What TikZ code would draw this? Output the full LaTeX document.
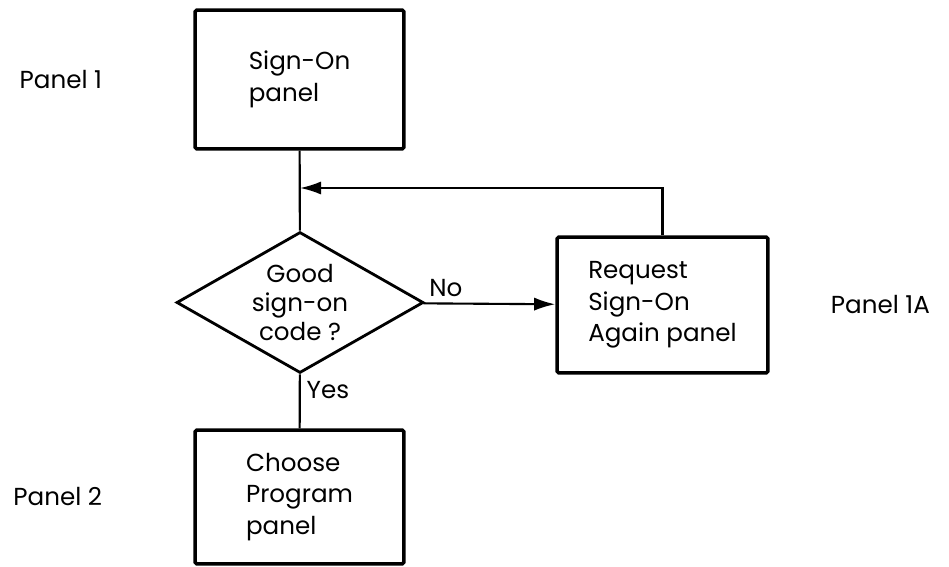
\documentclass[tikz,border=0pt]{standalone}
\usepackage{fontspec}
\setmainfont{Poppins}
\usetikzlibrary{shapes,arrows.meta,positioning,calc}

\begin{document}
\begin{tikzpicture}[x=0.02cm, y=-0.02cm,
    panelbox/.style={rectangle, draw, line width=2pt, rounded corners=1pt, minimum width=4.18cm, align=left, font=\fontsize{14}{18}\selectfont},
    decision/.style={diamond, draw, line width=1.6pt, aspect=1.75, inner sep=0pt, minimum width=4.94cm, minimum height=2.82cm, align=center, font=\fontsize{14}{16.5}\selectfont},
    flow/.style={line width=1.2pt},
    tag/.style={font=\fontsize{14}{16}\selectfont}]
    \useasboundingbox (0,0) rectangle (949,567);

    % Sign-On panel
    \node[panelbox, minimum height=2.78cm] (signon) at (299.5, 79.5) {Sign-On\\panel};

    % Decision
    \node[decision] (check) at (300, 302.5) {Good\\sign-on\\code ?};

    % Request again
    \node[panelbox, minimum width=4.22cm, minimum height=2.72cm] (request) at (662.5, 305) {Request\\Sign-On\\Again panel};

    % Choose program
    \node[panelbox, minimum height=2.68cm] (choose) at (299.5, 497) {Choose\\Program\\panel};

    % Panel names
    \node[tag, left=1.7cm of signon] (p1) {Panel 1};
    \node[tag, right=1.1cm of request] (p1a) {Panel 1A};
    \node[tag, left=1.7cm of choose] (p2) {Panel 2};

    % Lines
    \coordinate (merge) at (300, 188);
    \draw[flow] (signon) -- (check);
    \draw[flow, -{Latex[length=12pt, width=7.5pt]}] (check) -- node[tag, pos=0.17, above] (no) {No} (request);
    \draw[flow, -{Latex[length=12pt, width=7.5pt]}] (request.north) |- (merge);
    \draw[flow] (check) -- node[tag, pos=0.3, right] (yes) {Yes} (choose);
\end{tikzpicture}
\end{document}
